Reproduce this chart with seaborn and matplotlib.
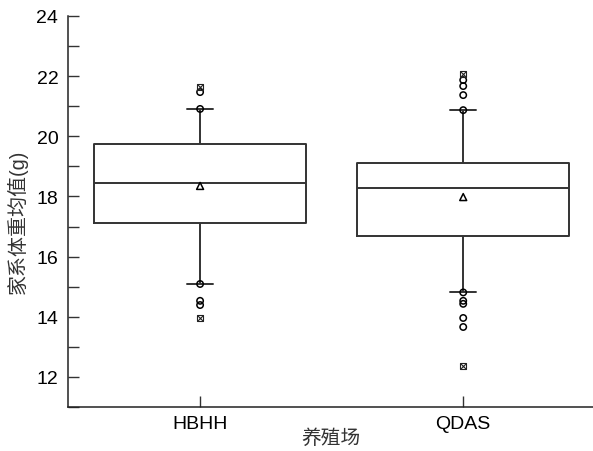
import numpy as np
import pandas as pd
import matplotlib
matplotlib.use("Agg")
import matplotlib.pyplot as plt
import seaborn as sns
from matplotlib.ticker import MultipleLocator

# ---- data ----
groups = ["HBHH", "QDAS"]
whisker_low = [15.09, 14.81]
q1 = [17.12, 16.69]
median = [18.45, 18.28]
q3 = [19.75, 19.11]
whisker_high = [20.91, 20.87]
means = [18.35, 17.98]

circle_hbhh = [20.91, 21.47, 15.09, 14.53, 14.39]
circle_qdas = [20.87, 21.87, 21.67, 21.37, 14.81, 14.53, 14.43, 13.96, 13.66]
extreme_hbhh = [21.64, 13.95]
extreme_qdas = [22.07, 12.36]

y_ticks = [12, 14, 16, 18, 20, 22, 24]

# ---- build tables ----
box_rows = []
for g, lo, a, m, b, hi in zip(groups, whisker_low, q1, median, q3, whisker_high):
    for v in (lo, a, m, b, hi):
        box_rows.append({"farm": g, "val": v})
box_df = pd.DataFrame(box_rows)

circ_df = pd.DataFrame({"farm": ["HBHH"] * len(circle_hbhh) + ["QDAS"] * len(circle_qdas),
                        "val": circle_hbhh + circle_qdas})
ext_df = pd.DataFrame({"farm": ["HBHH"] * len(extreme_hbhh) + ["QDAS"] * len(extreme_qdas),
                       "val": extreme_hbhh + extreme_qdas})
mean_df = pd.DataFrame({"farm": groups, "val": means})

sns.set_theme(style="ticks")
plt.rcParams["font.family"] = ["Liberation Sans", "Noto Sans CJK SC", "DejaVu Sans"]

fig = plt.figure(figsize=(5.93, 4.52), dpi=100)
ax = fig.add_axes([68 / 593, 44 / 452, 1 - 68 / 593 + 0.003, (408 - 17) / 452])

edge = "#333333"
sns.boxplot(data=box_df, x="farm", y="val", order=groups, whis=(0, 100),
            width=0.806, fill=False, color=edge, linewidth=1.4,
            showfliers=False, ax=ax, capwidths=0.1)

sns.stripplot(data=circ_df, x="farm", y="val", order=groups, jitter=False,
              marker="o", s=4.6, facecolor="none", edgecolor="black",
              linewidth=1.1, ax=ax, zorder=5)
sns.stripplot(data=ext_df, x="farm", y="val", order=groups, jitter=False,
              marker="s", s=4.2, facecolor="none", edgecolor="#222222",
              linewidth=0.8, ax=ax, zorder=5)
sns.stripplot(data=ext_df, x="farm", y="val", order=groups, jitter=False,
              marker="x", s=3.8, color="#222222", linewidth=0.8, ax=ax, zorder=6)
sns.stripplot(data=mean_df, x="farm", y="val", order=groups, jitter=False,
              marker="^", s=5, facecolor="none", edgecolor="black",
              linewidth=1.1, ax=ax, zorder=5)

ax.set_xlim(-0.502, 1.5)
ax.set_ylim(11, 24)
ax.set_yticks(y_ticks)
ax.yaxis.set_minor_locator(MultipleLocator(1))
ax.tick_params(axis="both", which="both", direction="in", length=8, width=1,
               color="#333333", labelsize=14, labelcolor="black")
ax.tick_params(axis="y", pad=7)
ax.tick_params(axis="x", pad=6)
for s in ("top", "right"):
    ax.spines[s].set_visible(False)
for s in ("left", "bottom"):
    ax.spines[s].set_color("#222222")
    ax.spines[s].set_linewidth(1.1)

lab_font = ["Liberation Sans", "Noto Sans CJK SC", "DejaVu Sans"]
ax.set_xlabel("养殖场", fontsize=14.2, family=lab_font, color="#333333", labelpad=-3)
ax.set_ylabel("家系体重均值(g)", fontsize=14.4, family=lab_font, color="#333333")
ax.yaxis.set_label_coords(-0.076, 0.476)

fig.savefig("out.png", dpi=100)
